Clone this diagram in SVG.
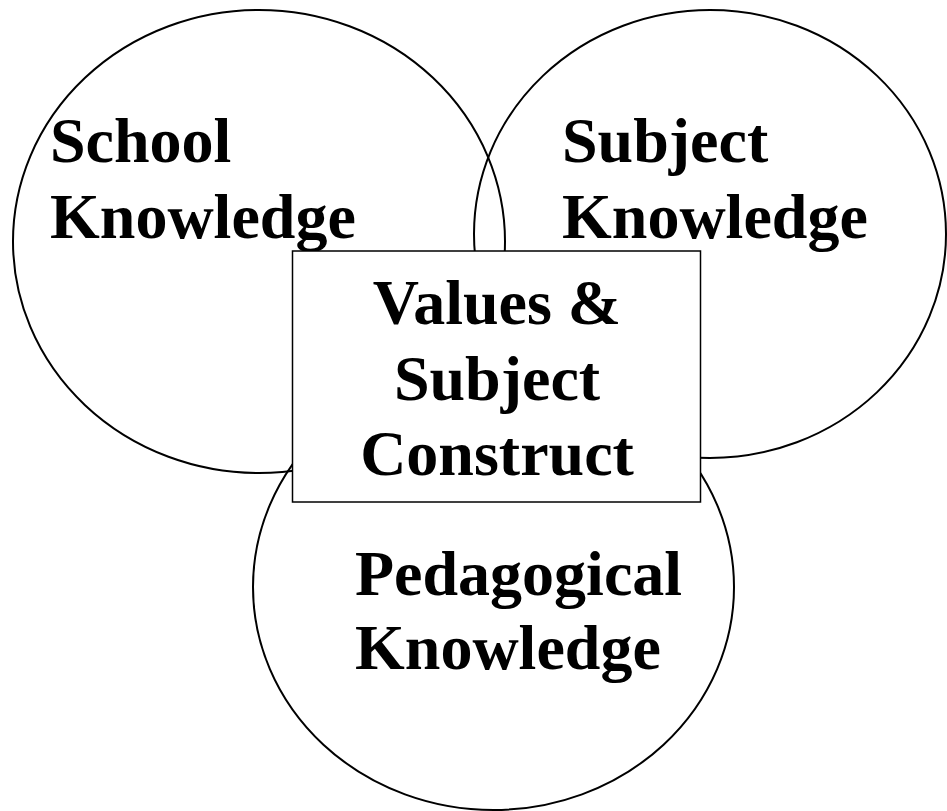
<svg xmlns="http://www.w3.org/2000/svg" width="947" height="811" viewBox="0 0 947 811">
<style>
.c{fill:none;stroke:#000;stroke-width:2}
.r{fill:#fff;stroke:#000;stroke-width:1.5}
.t{font-family:"Liberation Serif","Times New Roman",serif;font-weight:bold;font-size:64px;fill:#000}
</style>
<rect width="947" height="811" fill="#fff"/>
<g id="school">
<ellipse class="c" cx="259" cy="241.5" rx="246" ry="231.5"/>
<text class="t" x="50" y="162">School</text>
<text class="t" x="50" y="238">Knowledge</text>
</g>
<g id="subject">
<ellipse class="c" cx="710" cy="234" rx="236" ry="224"/>
<text class="t" x="562" y="162">Subject</text>
<text class="t" x="562" y="238">Knowledge</text>
</g>
<g id="pedagogical">
<ellipse class="c" cx="493.5" cy="587" rx="240.5" ry="223"/>
<text class="t" x="355" y="595">Pedagogical</text>
<text class="t" x="355" y="669">Knowledge</text>
</g>
<g id="values">
<rect class="r" x="292.5" y="251" width="408" height="251"/>
<text class="t" x="497" y="324" text-anchor="middle">Values &amp;</text>
<text class="t" x="497" y="400" text-anchor="middle">Subject</text>
<text class="t" x="497" y="475" text-anchor="middle">Construct</text>
</g>
<g id="connectors"></g>
</svg>
